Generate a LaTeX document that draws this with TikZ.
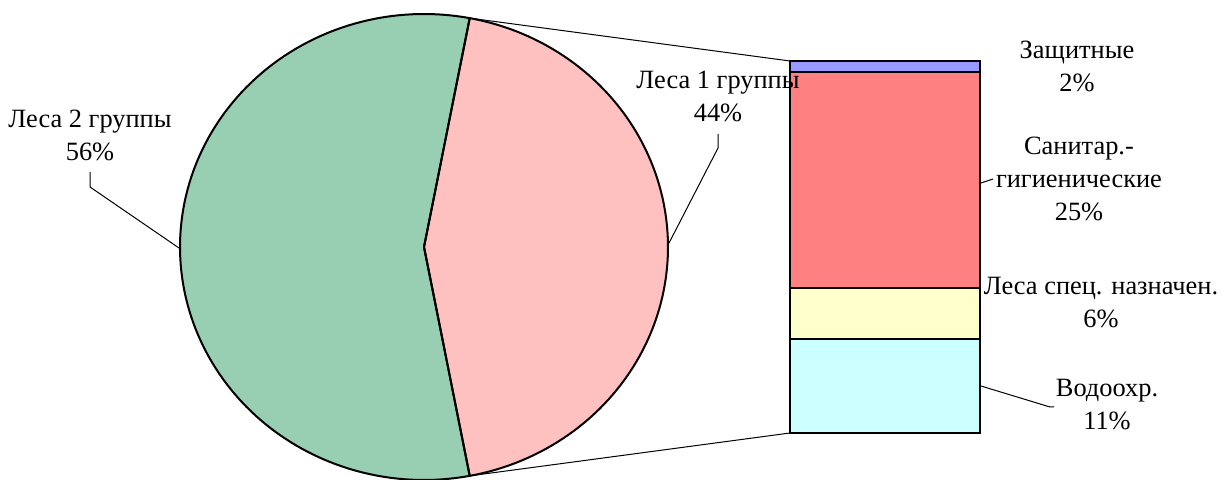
\documentclass[tikz,border=0pt]{standalone}
\usepackage{fontspec}
\setmainfont{Liberation Serif}
\definecolor{pgreen}{RGB}{152,206,178}
\definecolor{ppink}{RGB}{255,192,192}
\definecolor{bblue}{RGB}{153,153,255}
\definecolor{bred}{RGB}{255,128,128}
\definecolor{byellow}{RGB}{255,255,204}
\definecolor{bcyan}{RGB}{204,255,255}
\tikzset{
  slice/.style={draw=black, line width=1pt, line join=round},
  barseg/.style={draw=black, line width=1pt},
  leader/.style={draw=black, line width=0.5pt},
  lbl/.style={align=center, inner sep=0pt, font=\fontsize{13.2}{16.5}\selectfont},
}
\begin{document}
\begin{tikzpicture}[x=0.5pt,y=-0.5pt]
\useasboundingbox (0,0) rectangle (1222,480);
% pie
\coordinate (C) at (424,247);
\coordinate (Ptop) at ({424+244*cos(-79.2)},{247+233*sin(-79.2)});
\coordinate (Pbot) at ({424+244*cos(79.2)},{247+233*sin(79.2)});
\fill[pgreen] (C) -- plot[domain=79.2:280.8, samples=120] ({424+244*cos(\x)},{247+233*sin(\x)}) -- cycle;
\fill[ppink] (C) -- plot[domain=-79.2:79.2, samples=100] ({424+244*cos(\x)},{247+233*sin(\x)}) -- cycle;
\draw[slice] (C) -- plot[domain=79.2:280.8, samples=120] ({424+244*cos(\x)},{247+233*sin(\x)}) -- cycle;
\draw[slice] (C) -- plot[domain=-79.2:79.2, samples=100] ({424+244*cos(\x)},{247+233*sin(\x)}) -- cycle;
% bar
\coordinate (Btl) at (790,61);
\coordinate (Bbl) at (790,433);
\draw[barseg, fill=bcyan] (790,339) rectangle (980,433);
\draw[barseg, fill=byellow] (790,288) rectangle (980,339);
\draw[barseg, fill=bred] (790,72) rectangle (980,288);
\draw[barseg, fill=bblue] (790,61) rectangle (980,72);
% connectors
\draw[leader] (Ptop) -- (Btl);
\draw[leader] (Pbot) -- (Bbl);
% labels
\node[lbl] (l2) at (90,135) {Леса 2 группы\\56\%};
\node[lbl] (l1) at (718,96) {Леса 1 группы\\44\%};
\node[lbl] (lz) at (1077,66) {Защитные\\2\%};
\node[lbl] (ls) at (1079,179) {Санитар.-\\гигиенические\\25\%};
\node[lbl] (lsp) at (1101,302.5) {Леса спец. назначен.\\6\%};
\node[lbl] (lv) at (1107,405) {Водоохр.\\11\%};
% leaders
\coordinate (a2) at (90,172); \coordinate (b2) at (90,187); \coordinate (c2) at (179,248);
\draw[leader] (a2) -- (b2) -- (c2);
\coordinate (a1) at (718,134); \coordinate (b1) at (718,148); \coordinate (c1) at (668,245);
\draw[leader] (a1) -- (b1) -- (c1);
\coordinate (as) at (981,183); \coordinate (bs) at (993,179);
\draw[leader] (as) -- (bs);
\coordinate (av) at (981,386); \coordinate (bv) at (1050,407); \coordinate (cv) at (1054,407);
\draw[leader] (av) -- (bv) -- (cv);
\end{tikzpicture}
\end{document}
